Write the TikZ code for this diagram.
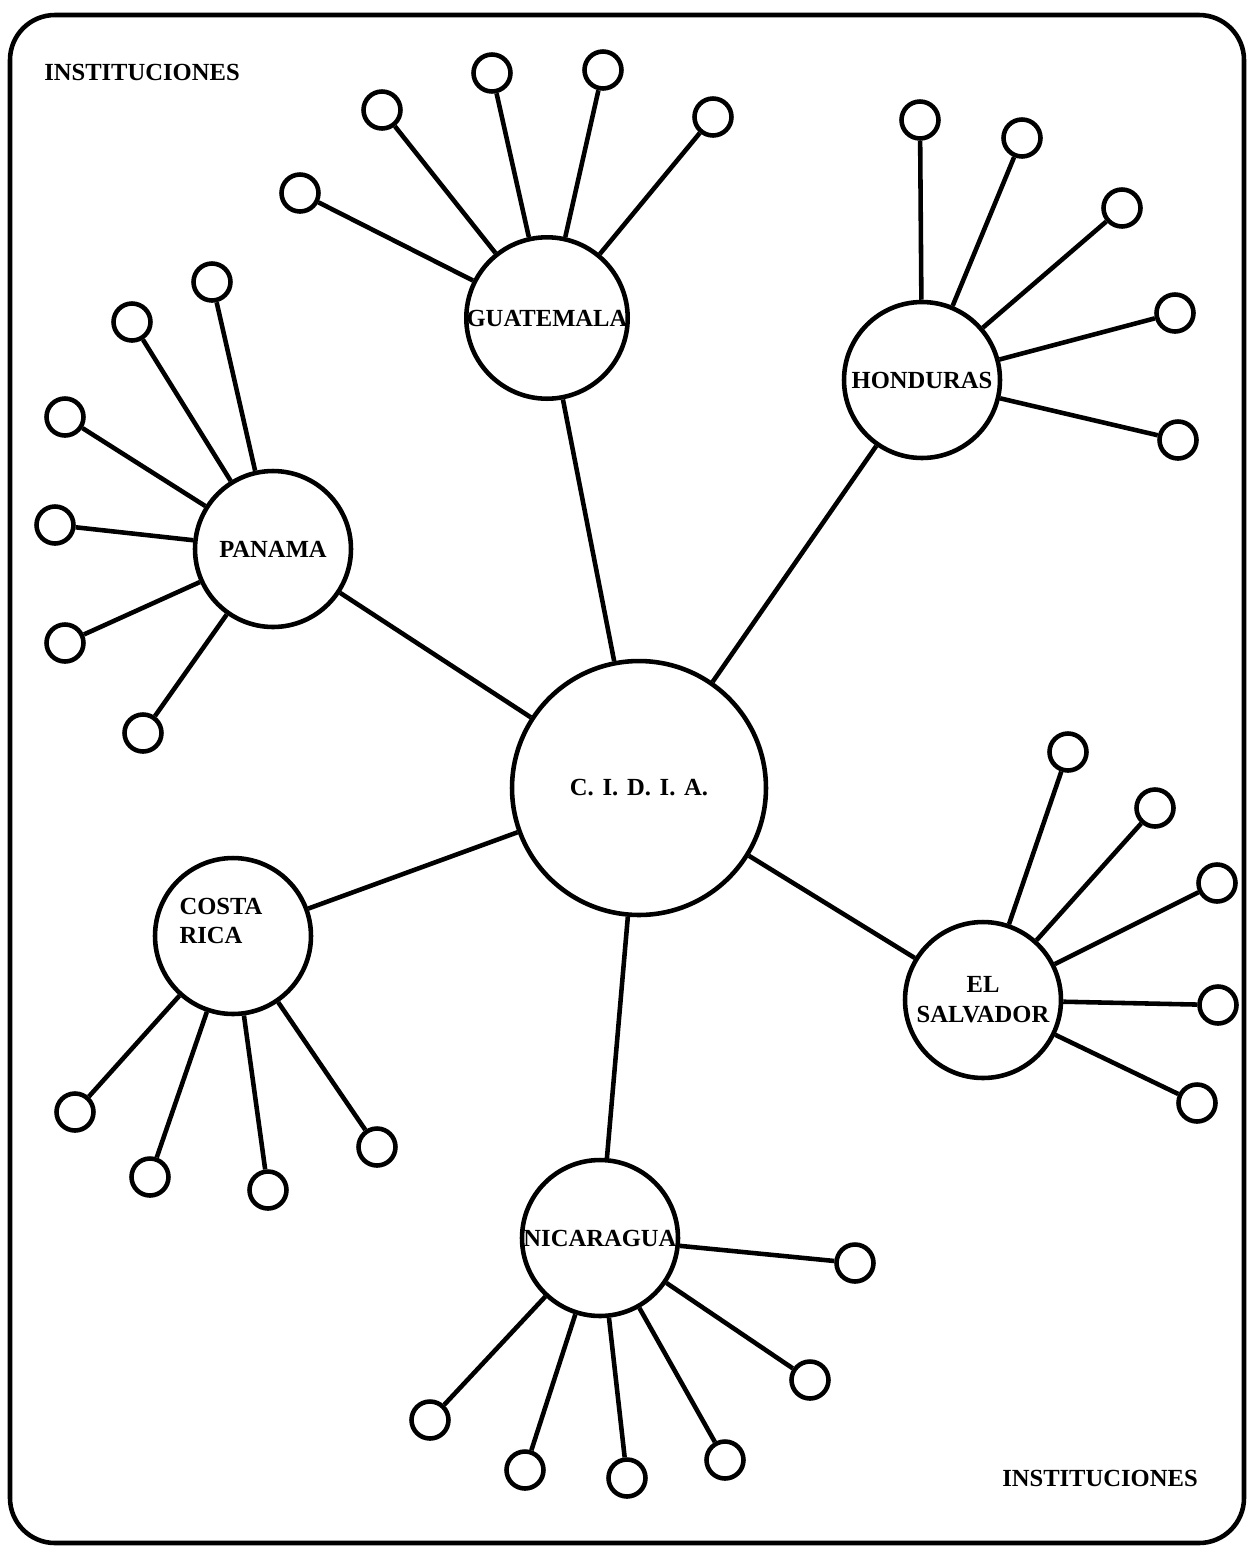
\documentclass[tikz,border=0pt]{standalone}
\usepackage{fontspec}
\setmainfont{Liberation Serif}
\newcommand{\typo}{\rmfamily\bfseries\fontsize{14}{17}\selectfont}

\begin{document}
\begin{tikzpicture}[x=0.02cm,y=-0.02cm,line width=2.6pt,
    centro/.style={draw,circle,inner sep=0pt,minimum size=5.08cm,font=\typo},
    pais/.style={draw,circle,inner sep=0pt,minimum size=3.12cm,font=\typo,align=center},
    inst/.style={draw,circle,inner sep=0pt,minimum size=0.74cm}]
   \def\pp{.\hspace{5pt}}
   \useasboundingbox (0,0) rectangle (1249,1546);
   \draw[rounded corners=0.9cm] (10,15) rectangle (1244,1543);
   \node[font=\typo] (tit1) at ( 142,  72) {INSTITUCIONES};
   \node[font=\typo] (tit2) at (1100,1478) {INSTITUCIONES};
   % centro y paises
   \node[centro] (cidia) at ( 639, 788) {C\pp I\pp D\pp I\pp A.};
   \node[pais]   (gua)   at ( 547, 318) {GUATEMALA};
   \node[pais]   (hon)   at ( 922, 380) {HONDURAS};
   \node[pais]   (pan)   at ( 273, 549) {PANAMA};
   \node[pais,label={[font=\typo,align=left,xshift=-0.24cm,yshift=0.3cm]center:COSTA\\RICA}]
                 (cri)   at ( 233, 936) {};
   \node[pais]   (sal)   at ( 983,1000) {EL\\SALVADOR};
   \node[pais]   (nic)   at ( 600,1238) {NICARAGUA};
   \foreach \p in {gua,hon,pan,cri,sal,nic}
      \draw (cidia) -- (\p);
   % instituciones de Guatemala
   \node[inst] (gua1) at ( 300, 193) {};
   \node[inst] (gua2) at ( 382, 110) {};
   \node[inst] (gua3) at ( 492,  73) {};
   \node[inst] (gua4) at ( 603,  70) {};
   \node[inst] (gua5) at ( 713, 117) {};
   % Honduras
   \node[inst] (hon1) at ( 920, 120) {};
   \node[inst] (hon2) at (1022, 138) {};
   \node[inst] (hon3) at (1122, 208) {};
   \node[inst] (hon4) at (1175, 313) {};
   \node[inst] (hon5) at (1178, 440) {};
   % Panama
   \node[inst] (pan1) at ( 212, 282) {};
   \node[inst] (pan2) at ( 132, 322) {};
   \node[inst] (pan3) at (  65, 417) {};
   \node[inst] (pan4) at (  55, 525) {};
   \node[inst] (pan5) at (  65, 643) {};
   \node[inst] (pan6) at ( 143, 733) {};
   % Costa Rica
   \node[inst] (cri1) at (  75,1112) {};
   \node[inst] (cri2) at ( 150,1177) {};
   \node[inst] (cri3) at ( 268,1190) {};
   \node[inst] (cri4) at ( 377,1147) {};
   % El Salvador
   \node[inst] (sal1) at (1068, 752) {};
   \node[inst] (sal2) at (1155, 808) {};
   \node[inst] (sal3) at (1217, 883) {};
   \node[inst] (sal4) at (1218,1005) {};
   \node[inst] (sal5) at (1197,1103) {};
   % Nicaragua
   \node[inst] (nic1) at ( 855,1263) {};
   \node[inst] (nic2) at ( 810,1380) {};
   \node[inst] (nic3) at ( 430,1420) {};
   \node[inst] (nic4) at ( 525,1470) {};
   \node[inst] (nic5) at ( 627,1478) {};
   \node[inst] (nic6) at ( 725,1460) {};
   \foreach \i in {1,...,5} \draw (gua) -- (gua\i);
   \foreach \i in {1,...,5} \draw (hon) -- (hon\i);
   \foreach \i in {1,...,6} \draw (pan) -- (pan\i);
   \foreach \i in {1,...,4} \draw (cri) -- (cri\i);
   \foreach \i in {1,...,5} \draw (sal) -- (sal\i);
   \foreach \i in {1,...,6} \draw (nic) -- (nic\i);
\end{tikzpicture}
\end{document}
